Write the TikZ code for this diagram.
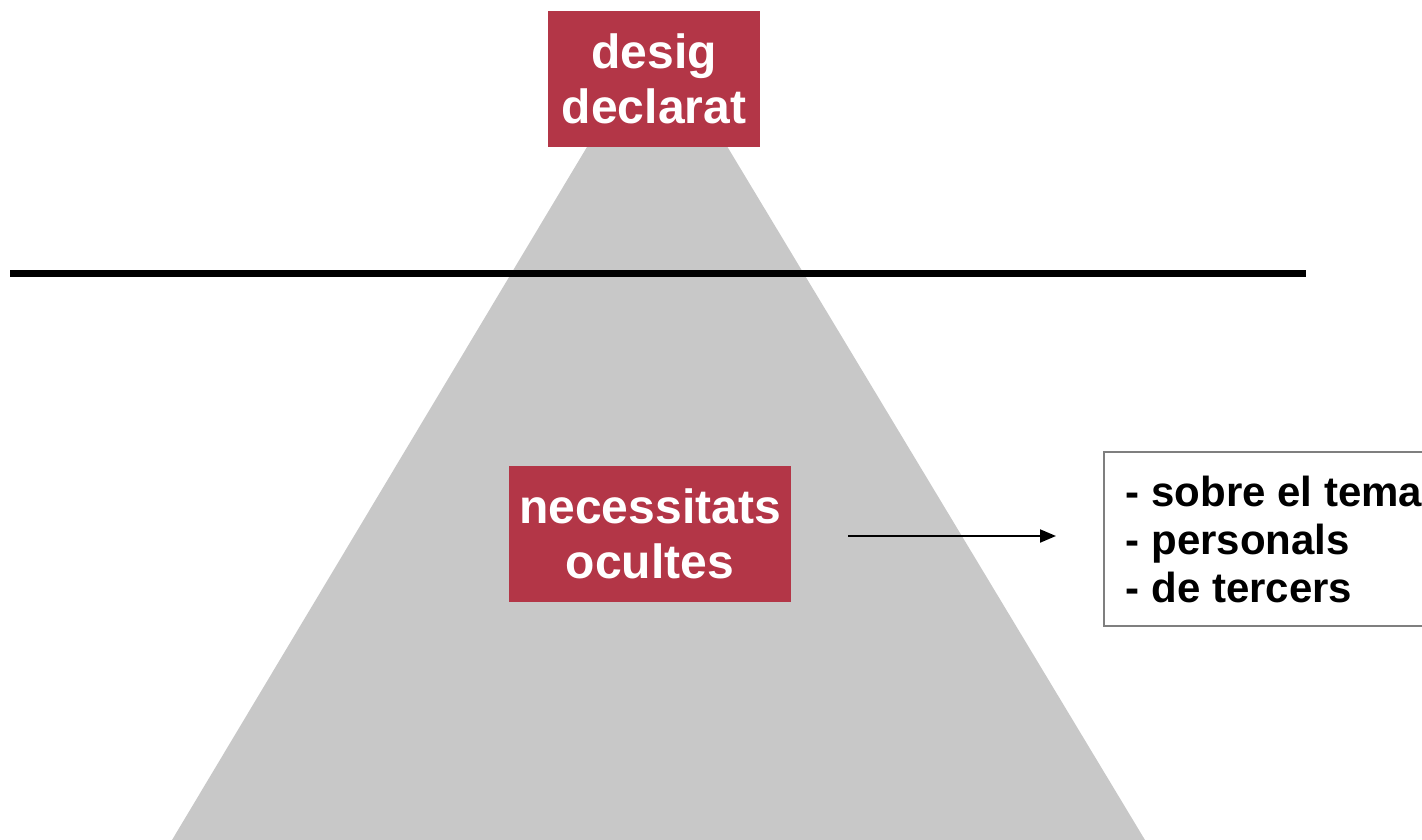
\documentclass[tikz,border=0pt]{standalone}
\usepackage{fontspec}
\setmainfont{Liberation Sans}
\usetikzlibrary{arrows.meta}
\definecolor{boxred}{HTML}{B33647}
\definecolor{conegray}{HTML}{C8C8C8}
\definecolor{framegray}{HTML}{7F7F7F}
\tikzset{
  redbox/.style={fill=boxred, text=white, font=\fontsize{48}{55}\selectfont\bfseries,
    align=center, inner sep=0pt},
  listbox/.style={draw=framegray, line width=1.5pt, fill=white, align=flush left,
    font=\fontsize{42}{48}\selectfont\bfseries, inner xsep=22pt, inner ysep=0pt,
    minimum height=174pt, text width=330pt},
  pointer/.style={line width=2pt, -{Triangle[length=16pt,width=13pt]}}
}
\begin{document}
\begin{tikzpicture}[x=1pt,y=-1pt]
  \useasboundingbox (0,0) rectangle (1422,840);
  \clip (0,0) rectangle (1422,840);
  % the cone
  \fill[conegray] (657,30) -- (1145,840) -- (172,840) -- cycle;
  % surface line
  \draw[line width=7pt] (10,273) -- (1306,273);
  % labels
  \node[redbox, minimum width=212pt, minimum height=136pt] (desig) at (654,79) {desig\\declarat};
  \node[redbox, minimum width=282pt, minimum height=136pt] (ocultes) at (650,534) {necessitats\\ocultes};
  \node[listbox, anchor=west] (kinds) at (1103,539) {- sobre el tema\\- personals\\- de tercers};
  \coordinate (tip) at ([yshift=-2pt]ocultes.east -| kinds.west);
  \draw[pointer] ([xshift=57pt,yshift=-2pt]ocultes.east) -- ([xshift=-47pt]tip);
\end{tikzpicture}
\end{document}
